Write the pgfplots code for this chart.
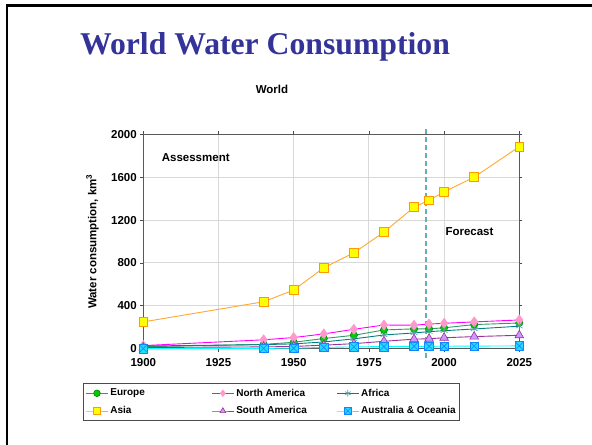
\documentclass[border=0pt]{standalone}
\usepackage{pgfplots}
\pgfplotsset{compat=1.18}
\usepackage{fontspec}
\setmainfont{Liberation Sans}
\newfontfamily\titlefont{Liberation Serif}

\definecolor{titleblue}{HTML}{333399}
\definecolor{eurline}{HTML}{339966}
\definecolor{eurfill}{HTML}{00CC00}
\definecolor{eurdraw}{HTML}{008000}
\definecolor{naline}{HTML}{FF00FF}
\definecolor{nafill}{HTML}{FF99CC}
\definecolor{afline}{HTML}{008080}
\definecolor{asline}{HTML}{FFA830}
\definecolor{asdraw}{HTML}{FF9900}
\definecolor{asfill}{HTML}{FFFF00}
\definecolor{saline}{HTML}{993399}
\definecolor{safill}{HTML}{CC99FF}
\definecolor{auline}{HTML}{00FFFF}
\definecolor{aufill}{HTML}{22DDFF}
\definecolor{fcline}{HTML}{66B2B2}

% square with a cross, as in the spreadsheet marker
\pgfdeclareplotmark{xsquare}{%
  \pgfpathrectangle{\pgfpoint{-\pgfplotmarksize}{-\pgfplotmarksize}}{\pgfpoint{2\pgfplotmarksize}{2\pgfplotmarksize}}%
  \pgfusepathqfillstroke
  \pgfpathmoveto{\pgfpoint{-\pgfplotmarksize}{-\pgfplotmarksize}}%
  \pgfpathlineto{\pgfpoint{\pgfplotmarksize}{\pgfplotmarksize}}%
  \pgfpathmoveto{\pgfpoint{-\pgfplotmarksize}{\pgfplotmarksize}}%
  \pgfpathlineto{\pgfpoint{\pgfplotmarksize}{-\pgfplotmarksize}}%
  \pgfusepathqstroke}

\begin{document}
\begin{tikzpicture}
\useasboundingbox (0,0) rectangle (592bp,445bp);
\draw[line width=2.5bp] (7bp,0) -- (7bp,439.5bp) -- (592bp,439.5bp);

\node[anchor=base, text=titleblue, font=\titlefont\bfseries\fontsize{31.7bp}{36bp}\selectfont]
  at (265bp,390bp) {World Water Consumption};
\node[anchor=base, font=\bfseries\fontsize{11.5bp}{13bp}\selectfont] at (272bp,351bp) {World};

\begin{axis}[
  at={(143.3bp,96.3bp)}, anchor=south west,
  width=376bp, height=214.4bp, scale only axis,
  xmin=1900, xmax=2025, ymin=0, ymax=2000,
  xtick={1900,1925,...,2025}, ytick={0,400,...,2000},
  grid=major, major grid style={gray!30, line width=0.9bp},
  axis line style={black!65, line width=0.8bp},
  tick align=outside, major tick length=3bp,
  tick style={black!70, line width=0.8bp},
  minor tick num=0,
  clip=false,
  /pgf/number format/assume math mode=true,
  /pgf/number format/1000 sep={},
  ticklabel style={font=\bfseries\fontsize{11.5bp}{13bp}\selectfont},
  x tick label style={yshift=-3bp},
  ylabel={Water consumption, km\textsuperscript{3}},
  ylabel style={at={(rel axis cs:-0.135,0.5)}, anchor=center,
    font=\bfseries\fontsize{11.5bp}{13bp}\selectfont},
  legend columns=3,
  legend cell align=left,
  legend style={at={(rel axis cs:-0.160,-0.160)}, anchor=north west,
    draw=black!70, line width=0.8bp, inner xsep=2bp, inner ysep=3.5bp,
    row sep=5bp,
    font=\bfseries\fontsize{10bp}{12bp}\selectfont},
  legend image code/.code={%
    \draw[mark repeat=2, mark phase=2, mark size=3.3bp] plot coordinates {(0bp,0bp) (11bp,0bp) (22bp,0bp)};},
  every axis plot/.append style={line width=0.9bp},
]

\addplot[eurline, mark=*, mark size=3.6bp,
  mark options={fill=eurfill, draw=eurdraw, line width=0.6bp}] coordinates {
  (1900,18) (1940,40) (1950,60) (1960,95) (1970,125) (1980,175)
  (1990,185) (1995,185) (2000,195) (2010,225) (2025,240)};
\addlegendentry{\makebox[99bp][l]{Europe}}

\addplot[naline, mark=diamond*, mark size=5bp,
  mark options={fill=nafill, draw=nafill, line width=0.6bp}] coordinates {
  (1900,29) (1940,83) (1950,104) (1960,138) (1970,181) (1980,221)
  (1990,219) (1995,230) (2000,237) (2010,250) (2025,268)};
\addlegendentry{\makebox[98bp][l]{North America}}

\addplot[afline, mark=asterisk, mark size=4bp,
  mark options={draw=afline!70, line width=0.6bp}] coordinates {
  (1900,25) (1940,38) (1950,45) (1960,63) (1970,92) (1980,128)
  (1990,147) (1995,159) (2000,168) (2010,184) (2025,210)};
\addlegendentry{Africa}

\addplot[asline, mark=square*, mark size=4.3bp,
  mark options={fill=asfill, draw=asdraw, line width=0.8bp}] coordinates {
  (1900,250) (1940,438) (1950,547) (1960,755) (1970,895) (1980,1087)
  (1990,1320) (1995,1385) (2000,1463) (2010,1600) (2025,1885)};
\addlegendentry{\makebox[99bp][l]{Asia}}

\addplot[saline, mark=triangle*, mark size=5bp,
  mark options={fill=safill, draw=saline, line width=0.6bp}] coordinates {
  (1900,11) (1940,17) (1950,21) (1960,33) (1970,47) (1980,69)
  (1990,89) (1995,93) (2000,102) (2010,113) (2025,125)};
\addlegendentry{\makebox[98bp][l]{South America}}

\addplot[auline, mark=xsquare, mark size=4.3bp,
  mark options={fill=aufill, draw=aufill!60!blue, line width=0.6bp}] coordinates {
  (1900,1) (1940,3) (1950,5) (1960,12) (1970,17) (1980,20)
  (1990,22) (1995,22) (2000,23) (2010,24) (2025,26)};
\addlegendentry{Australia \& Oceania}

% boundary between assessment and forecast
\addplot[forget plot, fcline, dashed, line width=1.3bp, dash pattern=on 5bp off 3bp]
  coordinates {(1994,-85) (1994,2055)};

\node[anchor=base west, font=\bfseries\fontsize{11.5bp}{13bp}\selectfont]
  at (axis cs:1905,1748) {Assessment};
\node[anchor=base west, font=\bfseries\fontsize{11.5bp}{13bp}\selectfont]
  at (axis cs:1999.3,1059) {Forecast};
\end{axis}
\end{tikzpicture}
\end{document}
